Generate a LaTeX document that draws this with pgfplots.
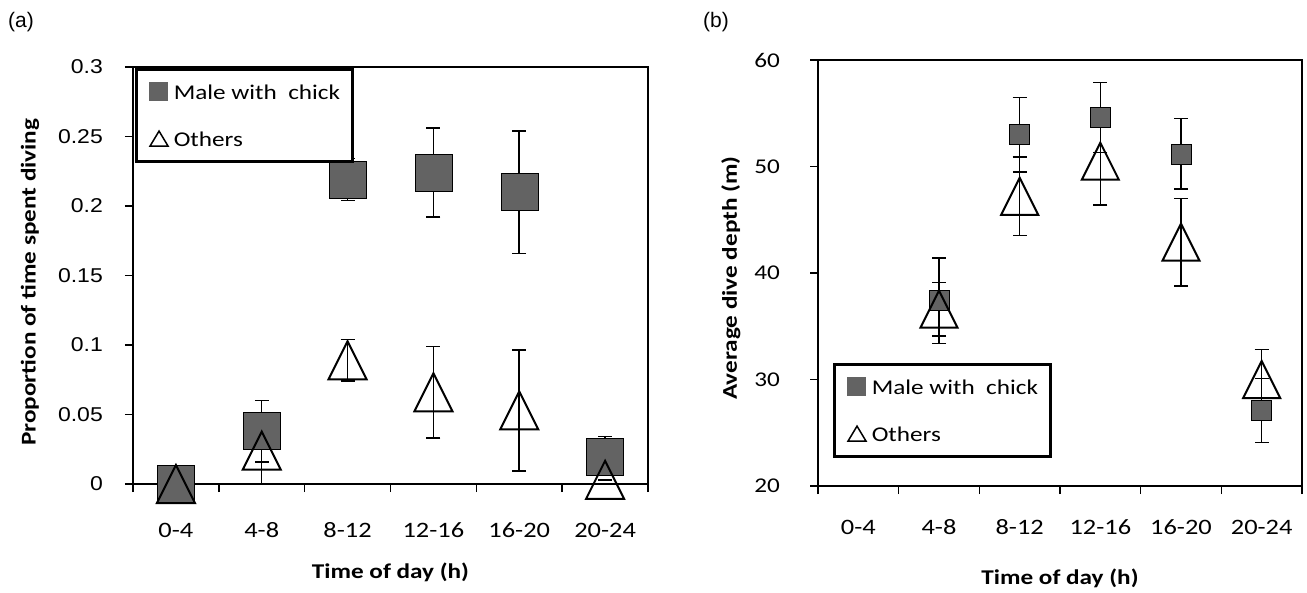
\documentclass[border=0pt]{standalone}
\usepackage{pgfplots}
\pgfplotsset{compat=1.18}
\usepackage{pgfplotstable}
\usepackage{fontspec}
\newfontfamily\calfont{Carlito}[FakeStretch=1.2]
\newfontfamily\arifont{Liberation Sans}[FakeStretch=1.15]
\newfontfamily\aripfont{Liberation Sans}
\definecolor{sqgray}{RGB}{99,99,99}

% triangle centred on its bounding box
\pgfdeclareplotmark{tri}{%
  \pgfpathmoveto{\pgfqpoint{0pt}{\pgfplotmarksize}}%
  \pgfpathlineto{\pgfqpoint{-\pgfplotmarksize}{-\pgfplotmarksize}}%
  \pgfpathlineto{\pgfqpoint{\pgfplotmarksize}{-\pgfplotmarksize}}%
  \pgfpathclose
  \pgfusepathqstroke}

% (a) proportion of time spent diving
\pgfplotstableread{
x y e
0 0     0
1 0.038 0.022
2 0.219 0.015
3 0.224 0.032
4 0.210 0.044
5 0.020 0.014
}\leftmale
\pgfplotstableread{
x y e
0 0     0
1 0.024 0.024
2 0.089 0.015
3 0.066 0.033
4 0.053 0.0435
5 0.003 0
}\leftoth
% (b) average dive depth
\pgfplotstableread{
x y e
1 37.4 4.0
2 53.0 3.5
3 54.6 3.3
4 51.2 3.3
5 27.1 3.0
}\rightmale
\pgfplotstableread{
x y e
1 36.6 2.5
2 47.2 3.7
3 50.5 4.1
4 42.9 4.1
5 30.0 2.8
}\rightoth

\pgfplotsset{
  panel/.style={
    scale only axis, clip=false,
    xmin=-0.5, xmax=5.5,
    xtick={0,...,5},
    xticklabels={0-4,4-8,8-12,12-16,16-20,20-24},
    minor xtick={-0.5,0.5,1.5,2.5,3.5,4.5,5.5},
    major x tick style={draw=none},
    xtick pos=bottom, ytick pos=left,
    tick align=outside,
    major tick length=8pt, minor tick length=8pt,
    tick style={line width=1.5pt, black},
    xticklabel style={font=\calfont\fontsize{22}{26}\selectfont, anchor=center, inner sep=0pt},
    label style={font=\calfont\bfseries\fontsize{21}{25}\selectfont},
    legend cell align=left,
    legend style={draw=black, line width=3pt, fill=white,
      font=\calfont\fontsize{21}{25}\selectfont,
      nodes={inner sep=0pt},
      inner xsep=12pt, inner ysep=13pt, row sep=29pt,
      /tikz/every odd column/.append style={column sep=5pt}},
  },
  ebar/.style={mark=none, draw=none, forget plot,
    error bars/.cd, y dir=both, y explicit,
    error bar style={line width=1.5pt, draw=black},
    error mark options={rotate=90, mark size=7pt, line width=1.5pt, draw=black}},
  sqleg/.style={legend image code/.code={\fill[sqgray] (0pt,-7pt) rectangle (16pt,9pt);}},
  trileg/.style={legend image code/.code={\draw[line width=1.5pt, black] (0pt,-6pt) -- (18pt,-6pt) -- (9pt,9pt) -- cycle;}},
}

\begin{document}
\begin{tikzpicture}
\useasboundingbox (0,0) rectangle (1307pt,592pt);
\node[anchor=north west, inner sep=0pt, font=\aripfont\fontsize{21}{25}\selectfont] at (8pt,580pt) {(a)};
\node[anchor=north west, inner sep=0pt, font=\aripfont\fontsize{21}{25}\selectfont] at (703pt,580pt) {(b)};

\begin{axis}[panel,
  at={(133pt,108pt)}, anchor=south west,
  width=515pt, height=417pt,
  ymin=0, ymax=0.3,
  axis line style={line width=2pt},
  ytick={0,0.05,0.1,0.15,0.2,0.25,0.3},
  yticklabels={0,0.05,0.1,0.15,0.2,0.25,0.3},
  yticklabel style={font=\arifont\fontsize{20}{24}\selectfont, anchor=east, inner sep=0pt, xshift=-22pt},
  xticklabel style={yshift=-38pt},
  xlabel={Time of day (h)}, ylabel={Proportion of time spent diving},
  xlabel style={at={(axis description cs:0.5,-0.211)}, anchor=center},
  ylabel style={at={(axis description cs:-0.2,0.484)}, anchor=center, rotate=0},
  legend style={at={(axis description cs:0.004,0.998)}, anchor=north west},
]
\addplot[ebar] table[x=x, y=y, y error=e] {\leftmale};
\addplot[ebar] table[x=x, y=y, y error=e] {\leftoth};
\addplot[only marks, mark=square*, mark size=18.5pt, mark options={fill=sqgray, draw=none}, sqleg]
  table[x=x, y=y] {\leftmale};
\addlegendentry{Male with\ \ chick}
\addplot[only marks, mark=tri, mark size=19pt, mark options={draw=black, line width=2pt, fill=none}, trileg]
  table[x=x, y=y] {\leftoth};
\addlegendentry{Others}
\end{axis}

\begin{axis}[panel,
  at={(818pt,106pt)}, anchor=south west,
  width=484pt, height=426pt,
  ymin=20, ymax=60,
  axis line style={line width=1.5pt},
  ytick={20,30,40,50,60},
  yticklabels={20,30,40,50,60},
  yticklabel style={font=\calfont\fontsize{21}{25}\selectfont, anchor=east, inner sep=0pt, xshift=-30pt},
  xticklabel style={yshift=-33pt},
  xlabel={Time of day (h)}, ylabel={Average dive depth (m)},
  xlabel style={at={(axis description cs:0.5,-0.216)}, anchor=center},
  ylabel style={at={(axis description cs:-0.18,0.488)}, anchor=center, rotate=0},
  legend style={at={(axis description cs:0.031,0.289)}, anchor=north west},
]
\addplot[ebar] table[x=x, y=y, y error=e] {\rightmale};
\addplot[ebar] table[x=x, y=y, y error=e] {\rightoth};
\addplot[only marks, mark=square*, mark size=10pt, mark options={fill=sqgray, draw=none}, sqleg]
  table[x=x, y=y] {\rightmale};
\addlegendentry{Male with\ \ chick}
\addplot[only marks, mark=tri, mark size=18.5pt, mark options={draw=black, line width=2pt, fill=none}, trileg]
  table[x=x, y=y] {\rightoth};
\addlegendentry{Others}
\end{axis}
\end{tikzpicture}
\end{document}
